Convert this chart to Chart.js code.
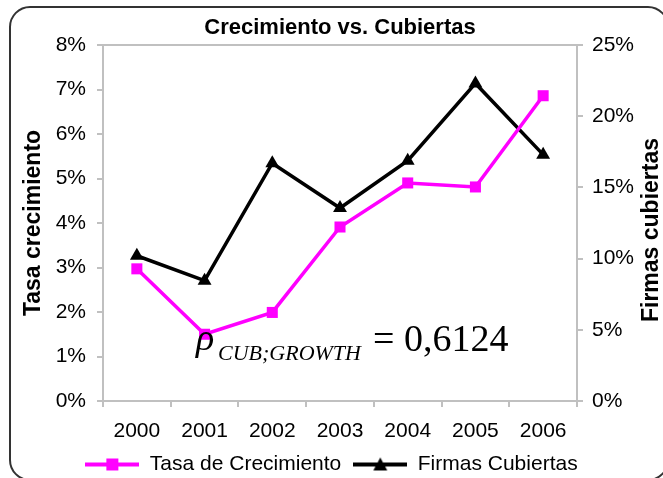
<!DOCTYPE html>
<html>
<head>
<meta charset="utf-8">
<script src="https://cdn.jsdelivr.net/npm/chart.js@4/dist/chart.umd.min.js"></script>
<style>
    html, body { margin: 0; padding: 0; background: #fff; }
    #wrap { width: 663px; height: 478px; }
</style>
</head>
<body>
<div id="wrap"><canvas id="chart"></canvas></div>
<script>
const years = ['2000', '2001', '2002', '2003', '2004', '2005', '2006'];
const tasaCrecimiento = [2.97, 1.5, 1.99, 3.91, 4.9, 4.81, 6.86];   // % (eje izquierdo)
const firmasCubiertas = [10.2, 8.45, 16.7, 13.55, 16.87, 22.3, 17.3]; // % (eje derecho)

const MAGENTA = '#ff00ff';
const AXIS_GRAY = '#c0c0c0';
const SANS = '"Liberation Sans", Arial, sans-serif';
const SERIF = '"Liberation Serif", "Times New Roman", serif';

// icono de leyenda: linea con el marcador en el medio
function legendIcon(color, shape) {
    const c = document.createElement('canvas');
    c.width = 54;
    c.height = 16;
    const g = c.getContext('2d');
    g.strokeStyle = color;
    g.lineWidth = 4;
    g.beginPath();
    g.moveTo(0, 8);
    g.lineTo(54, 8);
    g.stroke();
    g.fillStyle = color;
    if (shape === 'rect') {
        g.fillRect(21, 2, 12, 12);
    } else {
        g.beginPath();
        g.moveTo(27, 1);
        g.lineTo(34, 14);
        g.lineTo(20, 14);
        g.closePath();
        g.fill();
    }
    return c;
}
const icons = [legendIcon(MAGENTA, 'rect'), legendIcon('#000', 'triangle')];

// fondo, marco redondeado, borde superior, titulo derecho y formula
const decorations = {
    id: 'decorations',
    beforeDraw(chart) {
        const ctx = chart.ctx;
        ctx.save();
        ctx.fillStyle = '#fff';
        ctx.fillRect(0, 0, chart.width, chart.height);
        ctx.strokeStyle = '#333';
        ctx.lineWidth = 2;
        ctx.beginPath();
        ctx.roundRect(10, 7, 658, 473, 20);
        ctx.stroke();
        ctx.restore();
    },
    afterLayout(chart) {
        // centrar el titulo sobre el area del grafico
        chart.titleBlock.left = chart.chartArea.left;
        chart.titleBlock.right = chart.chartArea.right;
    },
    afterDraw(chart) {
        const ctx = chart.ctx;
        const area = chart.chartArea;
        ctx.save();
        ctx.strokeStyle = AXIS_GRAY;
        ctx.lineWidth = 2;
        ctx.beginPath();
        ctx.moveTo(area.left, area.top);
        ctx.lineTo(area.right, area.top);
        ctx.stroke();

        // titulo del eje derecho, de abajo hacia arriba
        ctx.fillStyle = '#000';
        ctx.font = 'bold 23px ' + SANS;
        ctx.textAlign = 'center';
        ctx.textBaseline = 'middle';
        ctx.translate(652, 230);
        ctx.rotate(-Math.PI / 2);
        ctx.fillText('Firmas cubiertas', 0, 0);
        ctx.restore();

        ctx.save();
        ctx.fillStyle = '#000';
        ctx.textBaseline = 'alphabetic';
        ctx.textAlign = 'left';
        ctx.font = 'italic 38px ' + SERIF;
        ctx.fillText('\u03C1', 196, 350);
        ctx.font = 'italic 22px ' + SERIF;
        ctx.fillText('CUB;GROWTH', 218, 360);
        ctx.font = '38px ' + SERIF;
        ctx.fillText('= 0,6124', 373, 351);
        ctx.restore();
    }
};

const data = {
    labels: years,
    datasets: [{
        label: 'Tasa de Crecimiento',
        data: tasaCrecimiento,
        yAxisID: 'y',
        borderColor: MAGENTA,
        backgroundColor: MAGENTA,
        borderWidth: 3.5,
        pointStyle: 'rect',
        pointRadius: 7.8,
        pointBorderWidth: 0,
        pointBackgroundColor: MAGENTA,
        tension: 0,
        clip: false
    }, {
        label: 'Firmas Cubiertas',
        data: firmasCubiertas,
        yAxisID: 'y1',
        borderColor: '#000',
        backgroundColor: '#000',
        borderWidth: 3.5,
        pointStyle: 'triangle',
        pointRadius: 8,
        pointBorderWidth: 0,
        pointBackgroundColor: '#000',
        tension: 0,
        clip: false
    }]
};

const tickFont = { family: SANS, size: 21 };

const config = {
    type: 'line',
    data: data,
    options: {
        responsive: true,
        maintainAspectRatio: false,
        animation: false,
        layout: { padding: { left: 0, right: 0, top: 0, bottom: -7 } },
        plugins: {
            title: {
                display: true,
                text: 'Crecimiento vs. Cubiertas',
                color: '#000',
                font: { family: SANS, size: 22, weight: 'bold' },
                padding: { top: 14.8, bottom: 3.8 }
            },
            legend: {
                position: 'bottom',
                labels: {
                    color: '#000',
                    font: tickFont,
                    usePointStyle: true,
                    pointStyleWidth: 54,
                    padding: 12,
                    generateLabels: chart => chart.data.datasets.map((ds, i) => ({
                        text: ds.label,
                        pointStyle: icons[i],
                        datasetIndex: i,
                        hidden: false,
                        lineWidth: 0,
                        fillStyle: ds.borderColor,
                        strokeStyle: ds.borderColor
                    }))
                }
            },
            tooltip: { enabled: false }
        },
        scales: {
            x: {
                offset: true,
                grid: { display: true, drawOnChartArea: false, offset: true, tickLength: 6, color: AXIS_GRAY, lineWidth: 2 },
                border: { color: AXIS_GRAY, width: 2 },
                ticks: { color: '#000', font: tickFont, padding: 12, maxRotation: 0 },
                afterFit(scale) { scale.height = 41; }
            },
            y: {
                position: 'left',
                min: 0,
                max: 8,
                grid: { drawOnChartArea: false, tickLength: 6, color: AXIS_GRAY, lineWidth: 2 },
                border: { color: AXIS_GRAY, width: 2 },
                ticks: { stepSize: 1, color: '#000', font: tickFont, padding: 11, callback: v => v + '%' },
                title: {
                    display: true,
                    text: 'Tasa crecimiento',
                    color: '#000',
                    font: { family: SANS, size: 23, weight: 'bold' },
                    padding: { top: 20, bottom: 0 }
                },
                afterFit(scale) { scale.width = 103; }
            },
            y1: {
                position: 'right',
                min: 0,
                max: 25,
                grid: { drawOnChartArea: false, tickLength: 6, color: AXIS_GRAY, lineWidth: 2 },
                border: { color: AXIS_GRAY, width: 2 },
                ticks: { stepSize: 5, color: '#000', font: tickFont, padding: 9, callback: v => v + '%' },
                afterFit(scale) { scale.width = 86; }
            }
        }
    },
    plugins: [decorations]
};

new Chart(document.getElementById('chart'), config);
</script>
</body>
</html>
